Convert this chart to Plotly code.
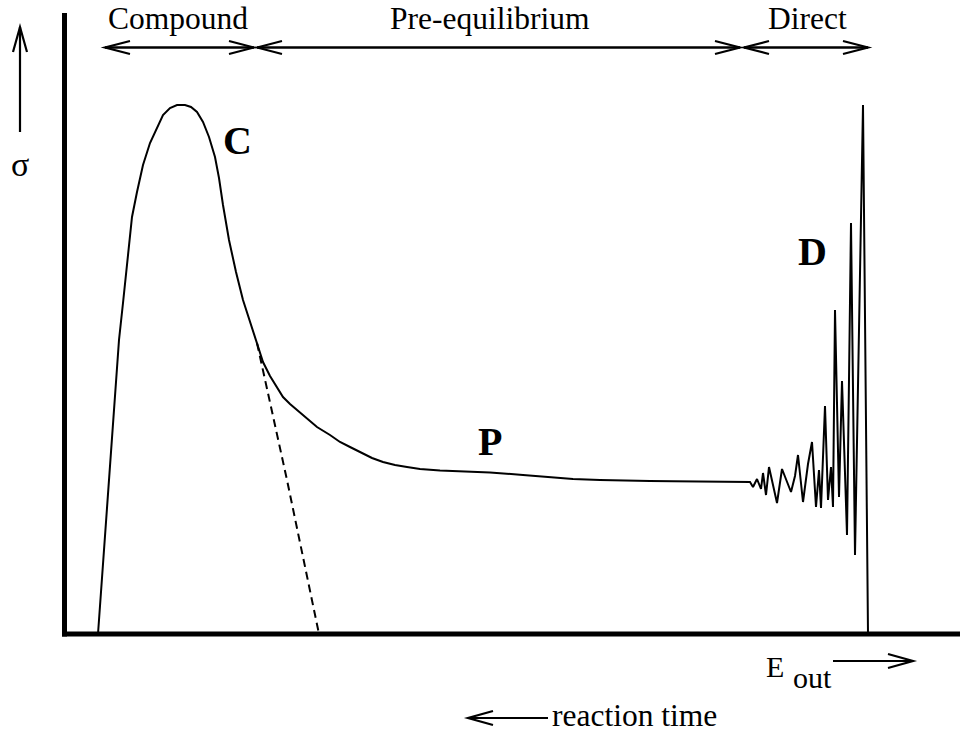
import plotly.graph_objects as go

# ---------------- data (E in arbitrary units, sigma in arbitrary units) ----------------
E_solid = [98, 104, 110, 115, 119, 123, 127, 132, 137, 143, 150, 157, 163, 170, 177, 185,
           191, 197, 203, 209, 215, 219, 223, 229, 236, 243, 250, 257, 263, 270, 277, 283,
           290, 297, 307, 317, 330, 340, 350, 360, 372, 383, 395, 407, 420, 440, 465, 490,
           523, 550, 573, 600, 623, 650, 673, 700, 720, 740, 750,
           753, 757, 761, 763, 766, 769, 773, 777, 782, 787, 791, 795, 798, 803, 808, 812, 816, 819,
           821, 825, 828, 831, 833, 835, 839, 842, 847, 851, 855, 863, 868]
sigma_solid = [0, 82, 167, 237, 294, 331, 369, 417, 442, 469, 491, 507, 519, 526, 529, 529,
               527, 522, 512, 497, 477, 456, 429, 394, 362, 334, 312, 291, 272, 258, 247, 237,
               230, 224, 215, 207, 199, 192, 187, 182, 176, 172, 169, 167, 165, 163.5, 162.5, 161.5,
               159, 157, 155, 154, 153.3, 153, 152.7, 152.3, 152, 152, 152,
               147, 155, 145, 161, 139, 167, 149, 131, 165, 151, 142, 158, 179, 132, 170, 192, 127, 164,
               126, 228, 134, 167, 127, 324, 137, 253, 99, 411, 79, 529, 0]

E_dashed = [257, 287, 319]
sigma_dashed = [291, 154, 0]

regions = ["Compound", "Pre-equilibrium", "Direct"]
region_start = [105, 257, 744]
region_end = [254, 740, 868]
region_label_x = [178, 490, 807]

peak_labels = ["C", "P", "D"]
peak_label_E = [237, 490, 812]
peak_label_sigma = [494, 193, 383]

# ---------------- layout helpers ----------------
X_RANGE = [0, 960]
Y_RANGE = [-99, 634]
HEADER_Y = 586.5
FONT = "Liberation Serif, Times New Roman, serif"

shapes = []


def seg(x0, y0, x1, y1, w=2.0, dash="solid"):
    shapes.append(dict(type="line", xref="x", yref="y", x0=x0, y0=y0, x1=x1, y1=y1,
                       line=dict(color="black", width=w, dash=dash), layer="above"))


def chevron(tx, ty, dx, dy, length=25, half=6.5, w=2.0):
    # open "<" style arrow head with tip at (tx, ty) pointing in direction (dx, dy)
    px, py = -dy, dx
    ax, ay = tx - dx * length + px * half, ty - dy * length + py * half
    bx, by = tx - dx * length - px * half, ty - dy * length - py * half
    shapes.append(dict(type="path", xref="x", yref="y",
                       path=f"M {ax},{ay} L {tx},{ty} L {bx},{by}",
                       line=dict(color="black", width=w), layer="above"))


# axes
seg(64.5, -2.5, 64.5, 621, w=5)
seg(62, 0, 960, 0, w=5)

# region arrows
for s, e in zip(region_start, region_end):
    seg(s, HEADER_Y, e, HEADER_Y, w=2.5)
    chevron(s, HEADER_Y, -1, 0, w=2.2)
    chevron(e, HEADER_Y, 1, 0, w=2.2)

# sigma arrow
seg(20, 502, 20, 607, w=2.2)
chevron(20, 607, 0, 1, length=25, half=7, w=2.2)

# E_out arrow
seg(833, -27, 913, -27, w=2.2)
chevron(913, -27, 1, 0, length=25, half=7, w=2.2)

# reaction time arrow
seg(548, -84, 468, -84, w=2.2)
chevron(468, -84, -1, 0, length=25, half=7, w=2.2)

annotations = []


def text(x, y, s, size, bold=False, xanchor="center"):
    annotations.append(dict(x=x, y=y, xref="x", yref="y", text=f"<b>{s}</b>" if bold else s,
                            showarrow=False, xanchor=xanchor, yanchor="middle",
                            font=dict(family=FONT, size=size, color="black")))


for name, cx in zip(regions, region_label_x):
    text(cx, 616, name, 31.5)

for lab, ex, sy in zip(peak_labels, peak_label_E, peak_label_sigma):
    text(ex, sy, lab, 40, bold=True)

text(20, 470, "σ", 34)
text(775, -32, "E", 30)
text(812, -43, "out", 30)
text(634, -81, "reaction time", 31.5)

fig = go.Figure()
fig.add_trace(go.Scatter(x=E_solid, y=sigma_solid, mode="lines",
                         line=dict(color="black", width=2), hoverinfo="skip"))
fig.add_trace(go.Scatter(x=E_dashed, y=sigma_dashed, mode="lines",
                         line=dict(color="black", width=2, dash="8px,5px"), hoverinfo="skip"))

fig.update_layout(
    width=960, height=733,
    margin=dict(l=0, r=0, t=0, b=0, pad=0),
    paper_bgcolor="white", plot_bgcolor="white",
    showlegend=False,
    xaxis=dict(range=X_RANGE, visible=False, fixedrange=True),
    yaxis=dict(range=Y_RANGE, visible=False, fixedrange=True),
    shapes=shapes,
    annotations=annotations,
)

fig.write_html("out.html", config={"displayModeBar": False})
